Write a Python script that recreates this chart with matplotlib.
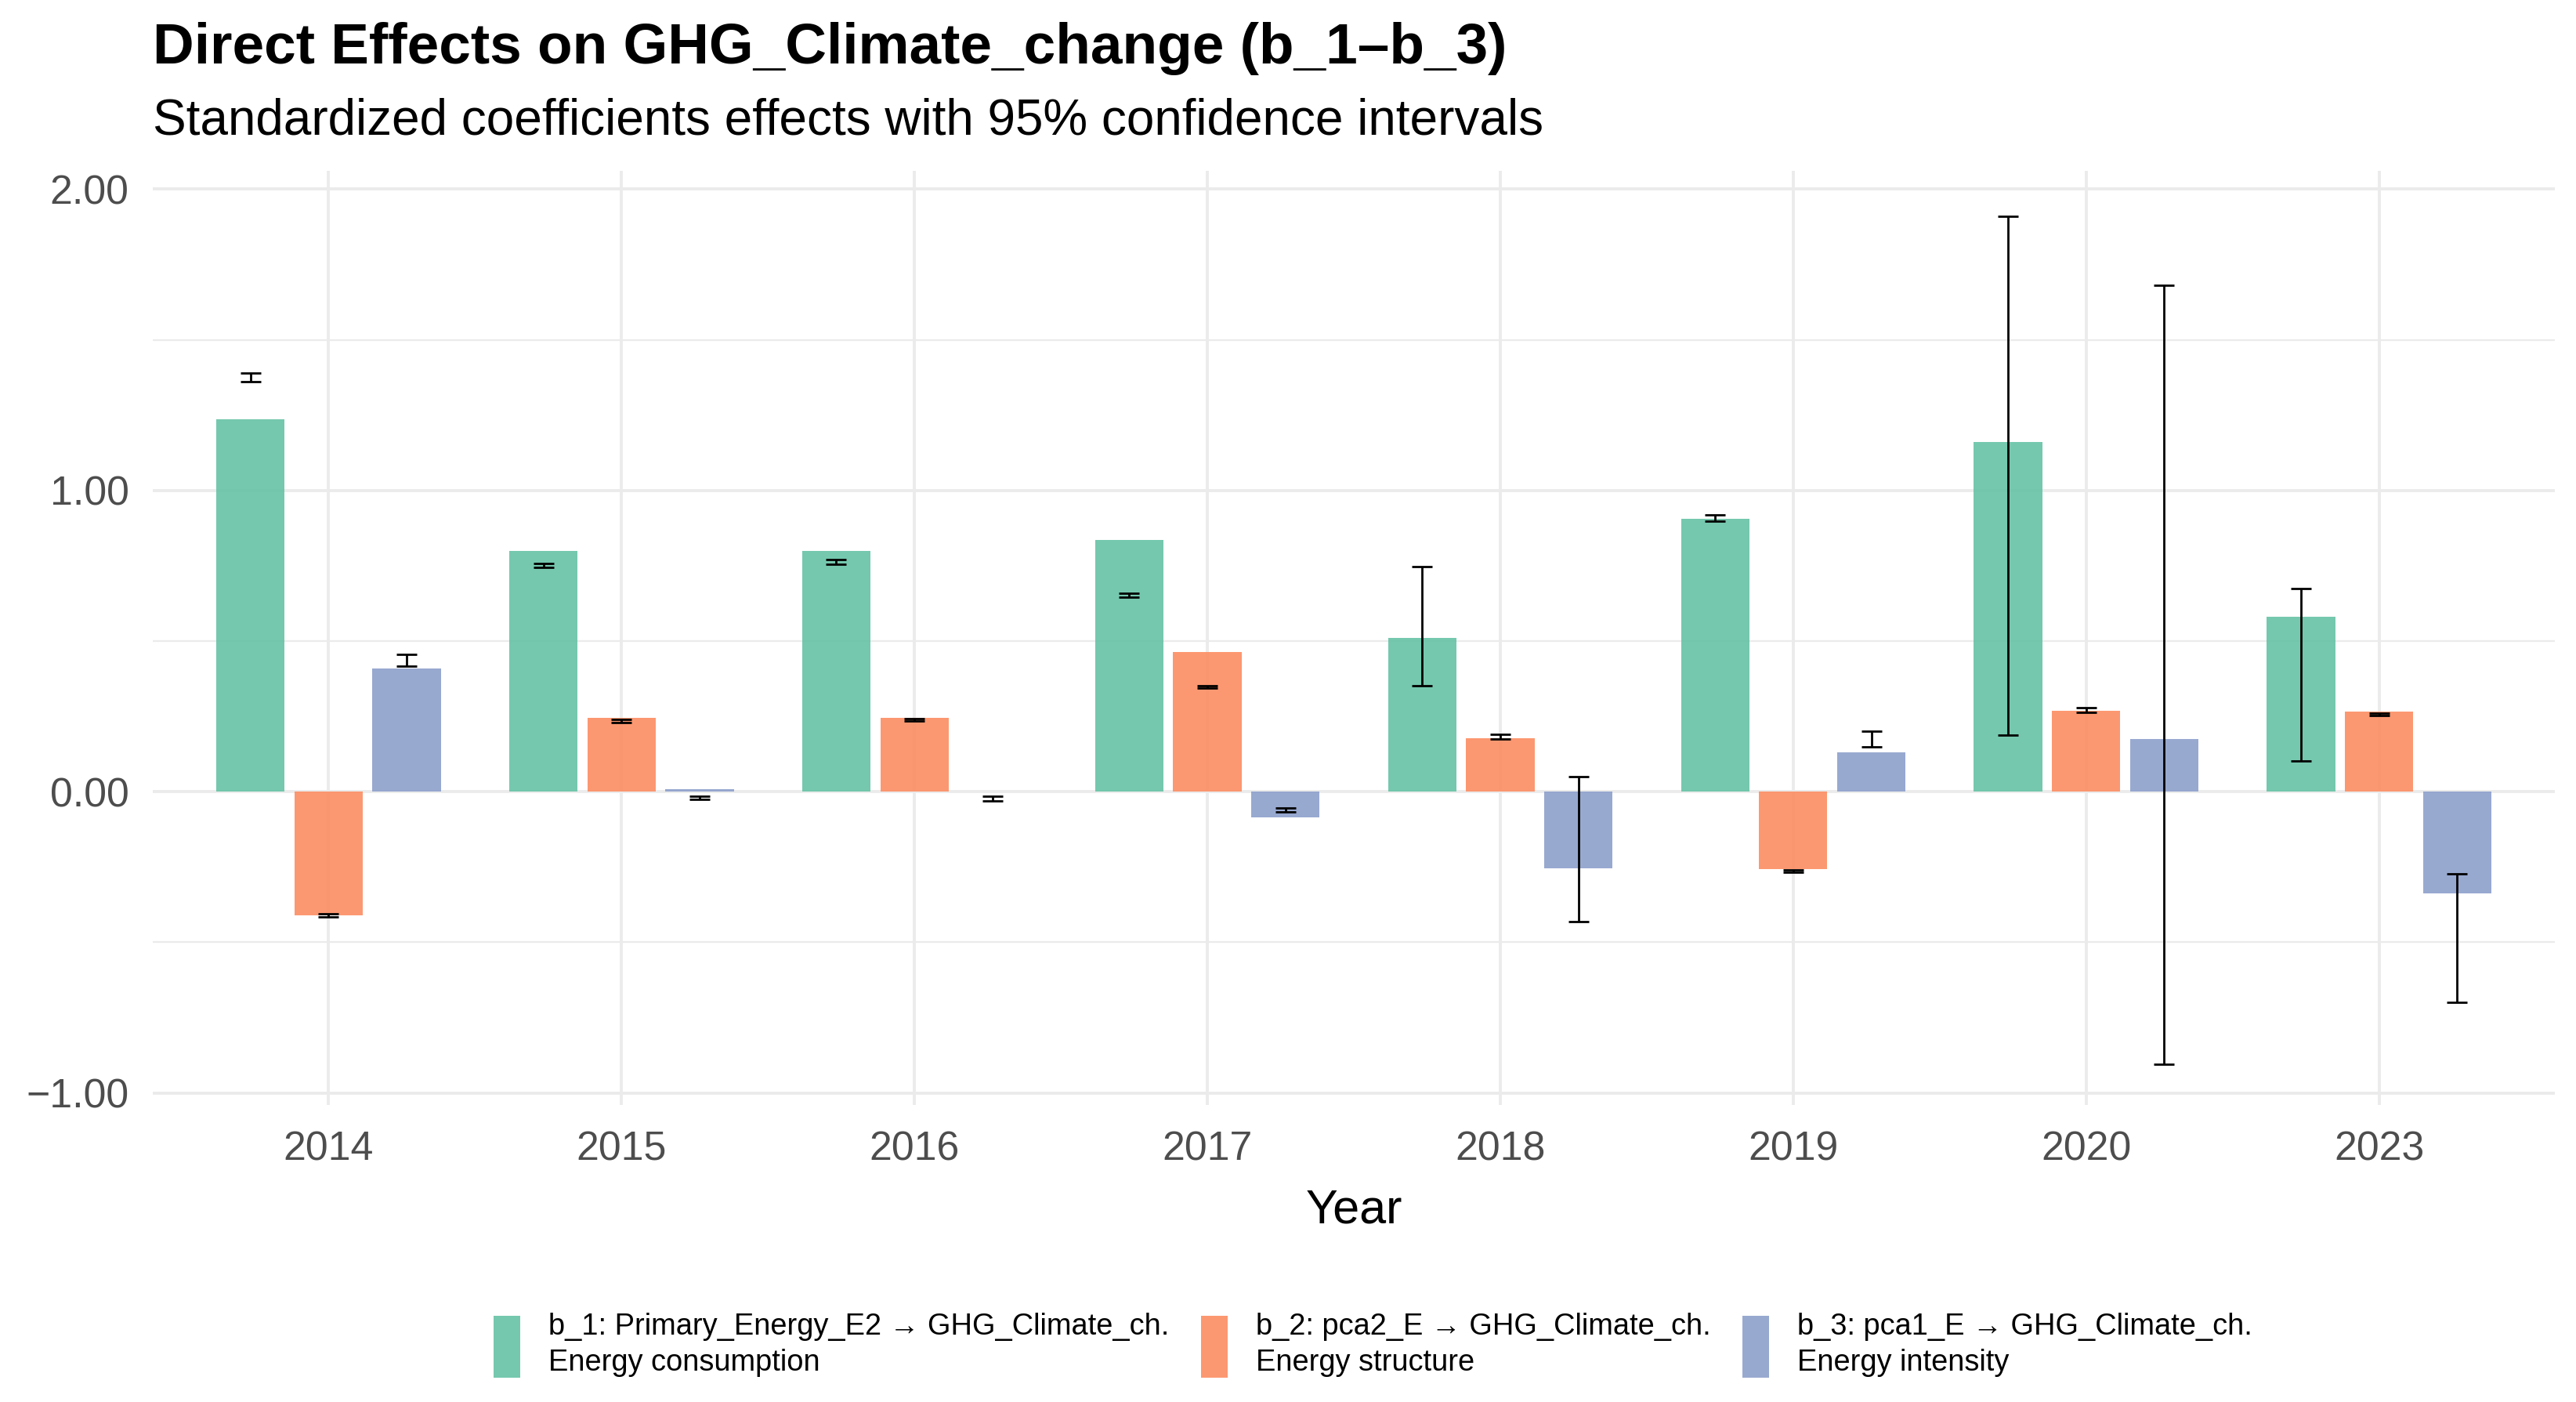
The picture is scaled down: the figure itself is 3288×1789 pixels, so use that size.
import matplotlib
matplotlib.use("Agg")
import matplotlib.pyplot as plt
from matplotlib.patches import Patch
import numpy as np

plt.rcParams['font.family'] = ['Liberation Sans', 'DejaVu Sans']

years = ['2014', '2015', '2016', '2017', '2018', '2019', '2020', '2023']

b1 = [1.235, 0.80, 0.80, 0.835, 0.51, 0.905, 1.16, 0.58]
b1_lo = [1.36, 0.745, 0.755, 0.645, 0.353, 0.897, 0.188, 0.102]
b1_hi = [1.39, 0.757, 0.770, 0.660, 0.748, 0.920, 1.91, 0.675]

b2 = [-0.41, 0.245, 0.246, 0.463, 0.178, -0.257, 0.268, 0.265]
b2_lo = [-0.415, 0.230, 0.236, 0.344, 0.175, -0.266, 0.264, 0.252]
b2_hi = [-0.404, 0.240, 0.242, 0.352, 0.190, -0.260, 0.278, 0.262]

b3 = [0.41, 0.009, 0.0, -0.085, -0.255, 0.13, 0.175, -0.337]
b3_lo = [0.418, -0.025, -0.030, -0.068, -0.43, 0.148, -0.905, -0.70]
b3_hi = [0.457, -0.014, -0.014, -0.054, 0.049, 0.200, 1.68, -0.272]

labels = [
    "b_1: Primary_Energy_E2 \u2192 GHG_Climate_ch.\nEnergy consumption",
    "b_2: pca2_E \u2192 GHG_Climate_ch.\nEnergy structure",
    "b_3: pca1_E \u2192 GHG_Climate_ch.\nEnergy intensity",
]
colors = ['#66C2A5', '#FC8D62', '#8DA0CB']

series = [(b1, b1_lo, b1_hi), (b2, b2_lo, b2_hi), (b3, b3_lo, b3_hi)]

fig = plt.figure(figsize=(16.44, 8.945), dpi=200)
ax = fig.add_axes([0.0593, 0.2118, 0.9325, 0.6662])

x = np.arange(len(years))
dodge = 0.8 / 3
bw = 0.7 / 3
for i, (vals, lo, hi) in enumerate(series):
    pos = x + (i - 1) * dodge
    vals = np.array(vals)
    ax.bar(pos, vals, width=bw, color=colors[i], alpha=0.9, zorder=2, linewidth=0)
    lo = np.array(lo); hi = np.array(hi)
    mid = (lo + hi) / 2
    ax.errorbar(pos, mid, yerr=[mid - lo, hi - mid], fmt='none', ecolor='black',
                elinewidth=1.0, capsize=4.8, capthick=1.0, zorder=3)

ax.set_xlim(-0.6, len(years) - 1 + 0.6)
ax.set_ylim(-1.04, 2.06)
ax.set_xticks(x)
ax.set_xticklabels(years)
ax.set_yticks([-1, 0, 1, 2])
ax.set_yticklabels(['\u22121.00', '0.00', '1.00', '2.00'])
ax.set_yticks([-0.5, 0.5, 1.5], minor=True)

for s in ax.spines.values():
    s.set_visible(False)
ax.grid(True, which='major', color='#EBEBEB', linewidth=1.4, zorder=0)
ax.grid(True, which='minor', axis='y', color='#EBEBEB', linewidth=0.8, zorder=0)
ax.set_axisbelow(True)
ax.tick_params(axis='both', which='both', length=0, labelsize=18.7, labelcolor='#4D4D4D')
ax.tick_params(axis='x', pad=11.6)
ax.tick_params(axis='y', pad=11)

ax.set_xlabel('Year', fontsize=22, color='black', labelpad=9)

fig.text(0.0593, 0.955, 'Direct Effects on GHG_Climate_change (b_1\u2013b_3)',
         fontsize=26.3, fontweight='bold', ha='left', va='baseline')
fig.text(0.0593, 0.904, 'Standardized coefficients effects with 95% confidence intervals',
         fontsize=23, ha='left', va='baseline')

handles = [Patch(facecolor=c, alpha=0.9, edgecolor='none') for c in colors]
leg = fig.legend(handles, labels, loc='center', bbox_to_anchor=(0.533, 0.0405), ncol=3,
                 frameon=False, fontsize=13.7, handlelength=0.9, handleheight=2.8,
                 handletextpad=0.95, columnspacing=1.05, borderpad=0)
for t in leg.get_texts():
    t.set_linespacing(1.34)

fig.savefig('out.png', dpi=200, facecolor='white')
